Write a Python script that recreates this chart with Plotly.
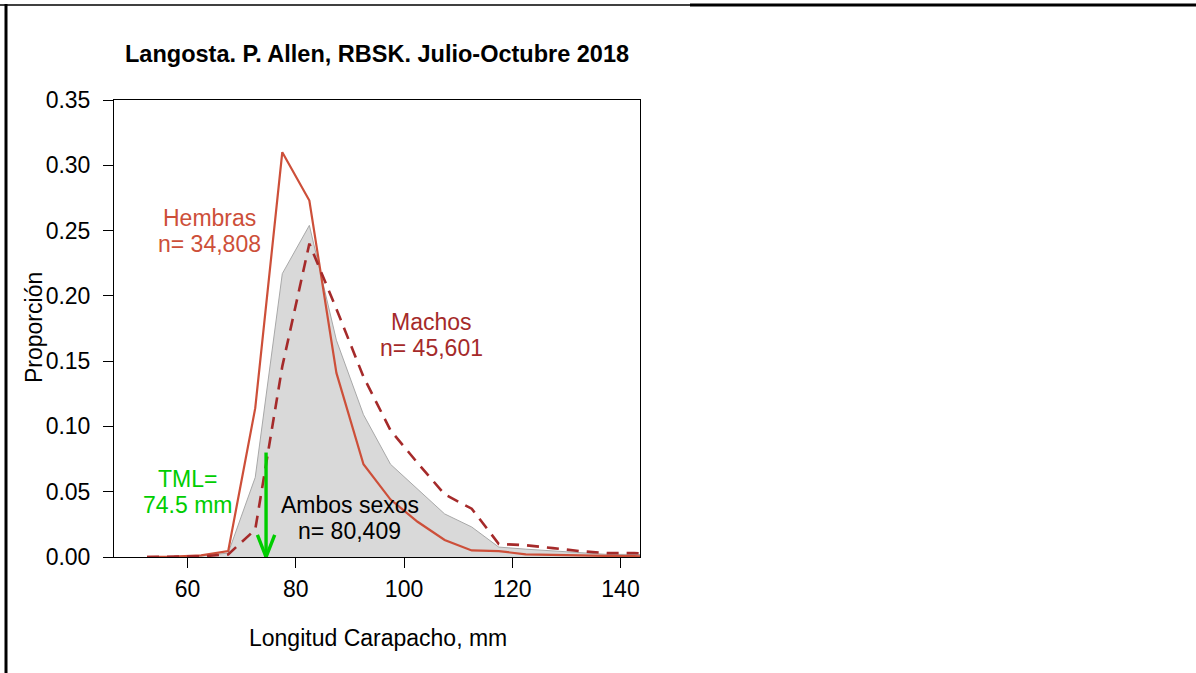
import plotly.graph_objects as go

# Carapace length classes (mm, class midpoints)
longitud = [52.5, 57.5, 62.5, 67.5, 72.5, 77.5, 82.5, 87.5, 92.5, 97.5,
            102.5, 107.5, 112.5, 117.5, 122.5, 127.5, 132.5, 137.5, 142.5, 147.5]

# Proportion per class
hembras = [0.0002, 0.0003, 0.0012, 0.0045, 0.114, 0.310, 0.273, 0.141, 0.071, 0.044,
           0.027, 0.013, 0.005, 0.0045, 0.002, 0.0015, 0.001, 0.0008, 0.0006, 0.0005]
machos = [0.0, 0.0002, 0.0005, 0.002, 0.021, 0.146, 0.240, 0.190, 0.138, 0.097,
          0.072, 0.048, 0.037, 0.010, 0.009, 0.0068, 0.0045, 0.003, 0.003, 0.002]
ambos = [0.0001, 0.0002, 0.0008, 0.003, 0.061, 0.217, 0.254, 0.166, 0.109, 0.071,
         0.052, 0.033, 0.023, 0.0076, 0.006, 0.0045, 0.003, 0.002, 0.002, 0.0013]

# Minimum legal size and the arrow's top
tml = 74.5
tml_top = 0.08

x_ticks = [60, 80, 100, 120, 140]
y_ticks = [0.0, 0.05, 0.10, 0.15, 0.20, 0.25, 0.30, 0.35]

W, H = 1196, 673
L, R, T, B = 114, 556, 100, 116
PW, PH = W - L - R, H - T - B

FONT = "Liberation Sans, Arial, sans-serif"
FS = 23
C_HEM = "#CD4F39"
C_MAC = "#A52A2A"
C_TML = "#00CD00"


def pxx(px):
    return (px - L) / PW


def pxy(py):
    return (H - B - py) / PH


fig = go.Figure()

fig.add_trace(go.Scatter(
    x=longitud, y=ambos, mode="lines", fill="tozeroy",
    fillcolor="#D9D9D9", line=dict(color="#A8A8A8", width=1),
    hoverinfo="skip", showlegend=False))

fig.add_trace(go.Scatter(
    x=longitud, y=hembras, mode="lines",
    line=dict(color=C_HEM, width=2.2), showlegend=False))

fig.add_trace(go.Scatter(
    x=longitud, y=machos, mode="lines",
    line=dict(color=C_MAC, width=2.6, dash="12px,8px"), showlegend=False))

# TML arrow: shaft and open head
head_dx, head_dy = 1.6, 0.017
fig.add_trace(go.Scatter(
    x=[tml, tml], y=[tml_top, 0], mode="lines",
    line=dict(color=C_TML, width=3.4), hoverinfo="skip", showlegend=False))
fig.add_trace(go.Scatter(
    x=[tml - head_dx, tml, tml + head_dx], y=[head_dy, 0, head_dy], mode="lines",
    line=dict(color=C_TML, width=3.4), hoverinfo="skip", showlegend=False))

annotations = []


def label(x, y, lines, color, size=FS):
    n = len(lines)
    for i, t in enumerate(lines):
        annotations.append(dict(
            x=x, y=y, xref="x", yref="y", text=t, showarrow=False,
            xanchor="center", yanchor="middle",
            yshift=(n - 1) * 13 - i * 26,
            font=dict(family=FONT, size=size, color=color)))


label(64, 0.25, ["Hembras", "n= 34,808"], C_HEM)
label(105, 0.17, ["Machos", "n= 45,601"], C_MAC)
label(60, 0.05, ["TML=", "74.5 mm"], C_TML)
label(90, 0.03, ["Ambos sexos", "n= 80,409"], "#000000")

annotations.append(dict(
    x=pxx(377), y=pxy(54), xref="paper", yref="paper",
    text="<b>Langosta. P. Allen, RBSK. Julio-Octubre 2018</b>",
    showarrow=False, xanchor="center", yanchor="middle",
    font=dict(family=FONT, size=23.5, color="#000000")))
annotations.append(dict(
    x=pxx(378), y=pxy(638), xref="paper", yref="paper",
    text="Longitud Carapacho, mm", showarrow=False,
    xanchor="center", yanchor="middle",
    font=dict(family=FONT, size=FS, color="#000000")))
annotations.append(dict(
    x=pxx(34), y=pxy(328), xref="paper", yref="paper",
    text="Proporción", textangle=-90, showarrow=False,
    xanchor="center", yanchor="middle",
    font=dict(family=FONT, size=FS, color="#000000")))

# Page frame lines
shapes = [
    dict(type="line", xref="paper", yref="paper",
         x0=pxx(0), x1=pxx(690), y0=pxy(5), y1=pxy(5),
         line=dict(color="#000000", width=1.5)),
    dict(type="line", xref="paper", yref="paper",
         x0=pxx(690), x1=pxx(1196), y0=pxy(5), y1=pxy(5),
         line=dict(color="#000000", width=3)),
    dict(type="line", xref="paper", yref="paper",
         x0=pxx(6), x1=pxx(6), y0=pxy(4), y1=pxy(673),
         line=dict(color="#000000", width=3)),
]

fig.update_layout(
    width=W, height=H,
    margin=dict(l=L, r=R, t=T, b=B, pad=0),
    paper_bgcolor="#FFFFFF", plot_bgcolor="#FFFFFF",
    font=dict(family=FONT, size=FS, color="#000000"),
    annotations=annotations, shapes=shapes,
    xaxis=dict(range=[46.4, 143.6], tickvals=x_ticks, ticks="outside",
               ticklen=10, tickwidth=1, tickcolor="#000000",
               showline=True, linecolor="#000000", linewidth=1, mirror=True,
               showgrid=False, zeroline=False, ticklabelstandoff=1,
               tickfont=dict(family=FONT, size=FS, color="#000000")),
    yaxis=dict(range=[0, 0.35], tickvals=y_ticks, tickformat=".2f",
               ticks="outside", ticklen=10, tickwidth=1, tickcolor="#000000",
               showline=True, linecolor="#000000", linewidth=1, mirror=True,
               showgrid=False, zeroline=False, ticklabelstandoff=8,
               tickfont=dict(family=FONT, size=FS, color="#000000")),
)

fig.write_html("out.html")
